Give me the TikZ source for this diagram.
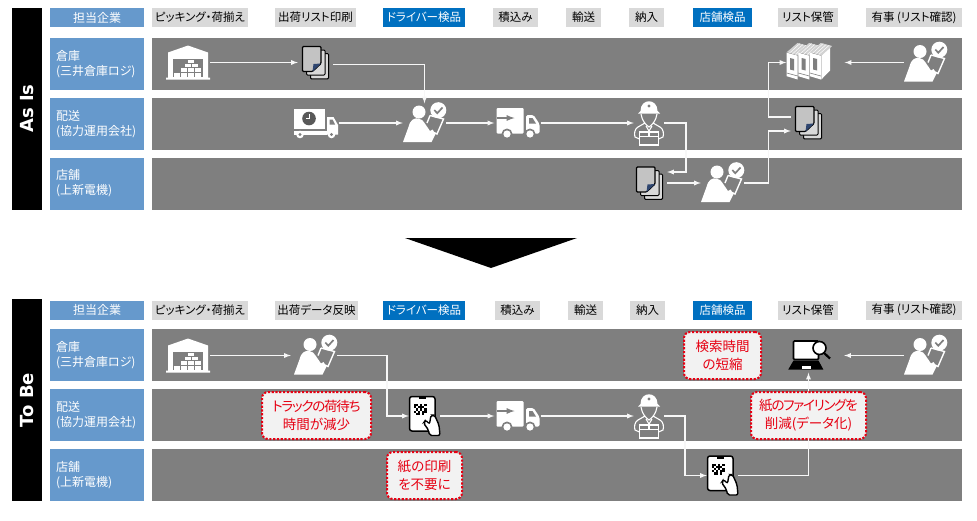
\documentclass[tikz,border=0pt]{standalone}
\usepackage{fontspec}
\setmainfont{Noto Sans CJK JP}[RawFeature={+palt}]
\newfontfamily\tagfont{DejaVu Sans}
\newcommand{\tightline}[1]{{\addfontfeature{LetterSpace=-9}#1}}
\usepackage{tikz}

\definecolor{bandgray}{HTML}{7F7F7F}
\definecolor{labelblue}{HTML}{6699CC}
\definecolor{stepgray}{HTML}{D9D9D9}
\definecolor{checkblue}{HTML}{0070C0}
\definecolor{calloutred}{HTML}{E60012}
\definecolor{calloutfill}{HTML}{F2F2F2}
\definecolor{linewhite}{HTML}{F7F7F7}
\definecolor{foldnavy}{HTML}{2F4670}

\tikzset{
  tagbox/.style={fill=black, text=white, minimum width=202pt, minimum height=30pt, inner sep=0pt, rotate=90, font=\tagfont\bfseries\fontsize{18}{18}\selectfont},
  headbox/.style={fill=labelblue, text=white, minimum height=19pt, inner sep=0pt, font=\fontsize{12}{15}\selectfont},
  rowlabel/.style={fill=labelblue, text=white, minimum width=94pt, minimum height=52pt, text width=82pt, align=left, inner sep=0pt, font=\fontsize{12}{15}\selectfont},
  band/.style={fill=bandgray, minimum width=810pt, minimum height=52pt, inner sep=0pt},
  stepbox/.style={fill=stepgray, text=black, minimum height=19pt, inner sep=0pt, font=\fontsize{11.5}{14}\selectfont},
  checkbox/.style={fill=checkblue, text=white, minimum height=19pt, inner sep=0pt, font=\fontsize{11.5}{14}\selectfont},
  callout/.style={fill=calloutfill, draw=calloutred, line width=2pt, dash pattern=on 2.2pt off 1.6pt, rounded corners=6pt, text=calloutred, align=center, inner sep=0pt, minimum height=47pt, font=\fontsize{13.5}{18}\selectfont},
  flow/.style={->, >=latex, draw=linewhite, line width=1.3pt},
  whicon/.style={minimum width=44pt, minimum height=34pt, inner sep=0pt},
  docicon/.style={minimum width=35pt, minimum height=34pt, inner sep=0pt},
  personicon/.style={minimum width=43pt, minimum height=39pt, inner sep=0pt},
  truckicon/.style={minimum width=46pt, minimum height=32pt, inner sep=0pt},
  manicon/.style={minimum width=30pt, minimum height=44pt, inner sep=0pt},
  binderout/.style={minimum width=44pt, minimum height=38pt, inner sep=0pt},
  laptopicon/.style={minimum width=43pt, minimum height=34pt, inner sep=0pt},
  phoneicon/.style={minimum width=31pt, minimum height=40pt, inner sep=0pt},
  warehouse/.pic={
    \fill[white] (-20,-10) -- (0,-17) -- (20,-10) -- (20,15) -- (22,15) -- (22,17) -- (-22,17) -- (-22,15) -- (-20,15) -- cycle;
    \fill[bandgray] (-15,-4) rectangle (15,14.5);
    \foreach \bx in {-14,-7,0,7} \fill[white] (\bx,10) rectangle ++(6,4);
    \foreach \bx in {-7,0,7} \fill[white] (\bx,5.5) rectangle ++(6,3.5);
    \foreach \bx in {-3.5,3.5} \fill[white] (\bx,1) rectangle ++(6,3.5);
    \fill[white] (0,-3) rectangle ++(6,3);
  },
  paperstack/.pic={
    \draw[black, fill=stepgray, line width=1pt, rounded corners=1pt] (-5,-9) rectangle (13,16.3);
    \draw[black, fill=stepgray, line width=1pt, rounded corners=1pt] (-9,-12.5) rectangle (9.5,12.5);
    \draw[black, fill=stepgray!90!black, line width=1.2pt, rounded corners=1pt] (-13,-16) -- (5.5,-16) -- (5.5,1) -- (-3,9) -- (-13,9) -- cycle;
    \fill[foldnavy] (5.5,1) -- (-3,9) -- (-2,1.5) -- cycle;
  },
  checker/.pic={
    \fill[white] (-21.5,19) -- (-16,4) .. controls (-14,-4) and (-10,-5) .. (-6,-4.5) .. controls (-3,-4) and (-1,-2) .. (0,0) -- (5.5,8) -- (8,6.5) -- (11,11) -- (7,19) -- cycle;
    \fill[white] (-5.5,-11) circle[radius=6.5];
    \draw[white, line width=1.4pt] (5.5,-7.5) -- (19,-4) -- (12.5,11) -- (9.5,9.5);
    \draw[white, line width=1.4pt] (5.5,-7.5) -- (2.5,0);
    \fill[white] (13.8,-12.8) circle[radius=8];
    \draw[bandgray, line width=1.7pt] (9.8,-13) -- (12.8,-9.8) -- (18,-15.5);
  },
  clocktruck/.pic={
    \fill[white] (-22,-14.5) rectangle (9.5,6);
    \fill[white] (-22,7.5) rectangle (11,11.5);
    \fill[white] (11.5,-6) -- (18,-6) -- (22.5,2) -- (22.5,11.5) -- (11.5,11.5) -- cycle;
    \fill[bandgray] (14,-3.5) -- (17,-3.5) -- (19.5,1.5) -- (14,1.5) -- cycle;
    \foreach \wx in {-15.5,16} {
      \fill[white] (\wx,11.5) circle[radius=3.8];
      \fill[bandgray] (\wx,11.5) circle[radius=1.6];
    }
    \fill[black!65] (-6.5,-4.5) circle[radius=6.8];
    \draw[white, line width=0.9pt] (-6.5,-9) -- (-6.5,-4.5) -- (-10,-4.5);
  },
  cargotruck/.pic={
    \fill[white, rounded corners=1pt] (-21,-15) rectangle (6,10.5);
    \fill[white, rounded corners=1.5pt] (8.5,-8) -- (16,-8) -- (22,1) -- (22,10.5) -- (8.5,10.5) -- cycle;
    \fill[bandgray] (11.5,-5) -- (15,-5) -- (18.5,0.5) -- (11.5,0.5) -- cycle;
    \foreach \wx in {-10.5,12.5} {
      \fill[bandgray] (\wx,11) circle[radius=5.5];
      \fill[white] (\wx,11) circle[radius=3.6];
    }
    \draw[flow, draw=bandgray, line width=1.7pt] (-21,-5) -- (-3,-5);
  },
  courier/.pic={
    \fill[white] (-8.5,-12) .. controls (-8.5,-25) and (8.5,-25) .. (8.5,-12) -- (11,-9.5) -- (-11,-9.5) -- cycle;
    \fill[bandgray] (0,-17) circle[radius=1.6];
    \begin{scope}[white, line width=1.1pt]
    \draw (-8,-9) .. controls (-7,-2) and (-3,2) .. (0,4) .. controls (3,2) and (7,-2) .. (8,-9);
    \draw (-4,0) -- (-11,4) .. controls (-14.5,6) and (-15,11) .. (-14,14) -- (-9.5,16);
    \draw (4,0) -- (11,4) .. controls (14.5,6) and (15,11) .. (14,14) -- (9.5,16);
    \draw (-9.5,9) rectangle (9.5,22);
    \draw (-9.5,13.5) -- (9.5,13.5);
    \draw (0,9) -- (0,13.5);
    \draw (-3,3) -- (0,8) -- (3,3);
    \end{scope}
  },
  binders/.pic={
    \fill[white] (12.8,-7) -- (21.5,-16) -- (21.5,8) -- (12.8,17) -- cycle;
    \foreach \bk in {0,11.6,23.2} {
      \fill[white!65!bandgray] (-21.8+\bk,-10.3) -- (-11+\bk,-19.5) -- (0.5+\bk,-16.5) -- (-10.2+\bk,-7) -- cycle;
      \draw[white, line width=0.5pt] (-19+\bk,-9.5) -- (-8.5+\bk,-19);
      \draw[white, line width=0.5pt] (-16+\bk,-8.7) -- (-5.5+\bk,-18);
      \draw[white, line width=0.5pt] (-13+\bk,-8) -- (-2.5+\bk,-17.2);
      \fill[white] (-21.8+\bk,-9.8) -- (-10.8+\bk,-6.8) -- (-10.8+\bk,17) -- (-21.8+\bk,13.7) -- cycle;
      \fill[bandgray] (-18.5+\bk,-4.5) -- (-14.5+\bk,-3.5) -- (-14.5+\bk,8) -- (-18.5+\bk,7) -- cycle;
      \draw[bandgray, line width=0.6pt] (-21.8+\bk,10.5) -- (-10.8+\bk,13.5);
    }
  },
  laptop/.pic={
    \draw[black, fill=white, line width=1.6pt, rounded corners=1pt] (-15,-14.5) rectangle (10,4);
    \fill[black] (-15,5) -- (10,5) -- (14.8,14) -- (-20.2,14) -- cycle;
    \fill[white] (-7,10) rectangle (2,13);
    \draw[black, line width=2.2pt] (15,-3) -- (21.5,3);
    \draw[black, fill=white, line width=1.6pt] (11,-7.5) circle[radius=6.5];
  },
  scanphone/.pic={
    \draw[black, fill=white, line width=1.5pt, rounded corners=2.5pt] (-15,-19.5) rectangle (10.5,15);
    \fill[black] (-6,-19) rectangle (1.5,-17);
    \fill[white] (-11,-12) rectangle (2,-1);
    \foreach \qx/\qy in {0/0,1/0,3/0,5/0,0/1,2/1,3/1,4/1,1/2,3/2,5/2,0/3,2/3,4/3,5/3,1/4,2/4,4/4}
      \fill[black] (-11+2.17*\qx,-12+2.2*\qy) rectangle ++(2.17,2.2);
    \draw[black, fill=white, line width=1.4pt, rounded corners=2pt] (-1,7) -- (1,4) -- (5,8) -- (6.5,-1) -- (10,-1) -- (14.5,9) -- (15.5,19.5) -- (5,19.5) -- (4,14) -- cycle;
  },
}

\begin{document}
\begin{tikzpicture}[x=1pt, y=-1pt]
\useasboundingbox (0,0) rectangle (977,520);

% As Is
\node[tagbox] (tagA) at (27,108.5) {As Is};
\node[headbox, minimum width=94pt] (hdA) at (97,17.5) {担当企業};
\node[stepbox, minimum width=96pt] (stA) at (200,17.5) {ピッキング・荷揃え};
\node[stepbox, minimum width=81pt] (stB) at (315.5,17.5) {出荷リスト印刷};
\node[checkbox, minimum width=82pt] (stC) at (424,17.5) {ドライバー検品};
\node[stepbox, minimum width=45pt] (stD) at (515.5,17.5) {積込み};
\node[stepbox, minimum width=35pt] (stE) at (583.5,17.5) {輸送};
\node[stepbox, minimum width=35pt] (stF) at (646.5,17.5) {納入};
\node[checkbox, minimum width=59pt] (stG) at (722.5,17.5) {店舗検品};
\node[stepbox, minimum width=60pt] (stH) at (808,17.5) {リスト保管};
\node[stepbox, minimum width=96pt] (stI) at (914,17.5) {有事 (リスト確認)};

\node[rowlabel] (lbA) at (97,64) {倉庫\\(三井倉庫ロジ)};
\node[rowlabel] (lbB) at (97,124) {配送\\(協力運用会社)};
\node[rowlabel] (lbC) at (97,183.5) {店舗\\(上新電機)};
\node[band] (bdA) at (557,64) {};
\node[band] (bdB) at (557,124) {};
\node[band] (bdC) at (557,183.5) {};

\node[whicon] (whA) at (188,62.5) {};
\node[docicon] (docA) at (315.5,62.5) {};
\node[truckicon] (trkA) at (315.5,123) {};
\node[personicon] (perA) at (424.5,123) {};
\node[truckicon] (trkB) at (517.5,123) {};
\node[manicon] (manA) at (649,123) {};
\node[docicon] (docB) at (649.5,183) {};
\node[personicon] (perB) at (722.5,183) {};
\node[docicon] (docC) at (808.5,122.5) {};
\node[binderout] (binA) at (808.5,62.5) {};
\node[personicon] (perC) at (925.5,62.5) {};
\coordinate (jnA) at (686,150);
\coordinate (jnB) at (768.5,150);
\coordinate (jnC) at (768.5,90);

\pic at (whA) {warehouse};
\pic at (docA) {paperstack};
\pic at (trkA) {clocktruck};
\pic at (perA) {checker};
\pic at (trkB) {cargotruck};
\pic at (manA) {courier};
\pic at (docB) {paperstack};
\pic at (perB) {checker};
\pic at (docC) {paperstack};
\pic at (binA) {binders};
\pic at (perC) {checker};

\draw[flow] (whA.east) -- (docA.west);
\draw[flow] ([yshift=-2pt]docA.east) -| (perA.north);
\draw[flow] (trkA.east) -- (perA.west);
\draw[flow] (perA.east) -- (trkB.west);
\draw[flow] (trkB.east) -- (manA.west);
\draw[flow] (manA.east) -| (jnA) |- ([yshift=11pt]docB.east);
\draw[flow] (docB.east) -- (perB.west);
\draw[flow] (perB.east) -| (jnB) |- ([yshift=-8.5pt]docC.west);
\draw[flow] ([yshift=5.5pt]docC.west) -| (jnC) |- (binA.west);
\draw[flow] (perC.west) -- ([xshift=14pt]binA.east);

\fill[black] (405,238) -- (577,238) -- (491,268) -- cycle;

% To Be
\node[tagbox] (tagB) at (27,400) {To Be};
\node[headbox, minimum width=94pt] (hdB) at (97,310) {担当企業};
\node[stepbox, minimum width=96pt] (stJ) at (200,310) {ピッキング・荷揃え};
\node[stepbox, minimum width=83pt] (stK) at (316.5,310) {出荷データ反映};
\node[checkbox, minimum width=82pt] (stL) at (424,310) {ドライバー検品};
\node[stepbox, minimum width=45pt] (stM) at (517.5,310) {積込み};
\node[stepbox, minimum width=35pt] (stN) at (585.5,310) {輸送};
\node[stepbox, minimum width=35pt] (stO) at (647.5,310) {納入};
\node[checkbox, minimum width=59pt] (stP) at (722.5,310) {店舗検品};
\node[stepbox, minimum width=60pt] (stQ) at (808,310) {リスト保管};
\node[stepbox, minimum width=96pt] (stR) at (914,310) {有事 (リスト確認)};

\node[rowlabel] (lbD) at (97,355) {倉庫\\(三井倉庫ロジ)};
\node[rowlabel] (lbE) at (97,415) {配送\\(協力運用会社)};
\node[rowlabel] (lbF) at (97,475) {店舗\\(上新電機)};
\node[band] (bdD) at (557,355) {};
\node[band] (bdE) at (557,415) {};
\node[band] (bdF) at (557,475) {};

\node[whicon] (whB) at (188,355.5) {};
\node[personicon] (perD) at (315.5,355.5) {};
\node[phoneicon] (phoA) at (424.5,416) {};
\node[truckicon] (trkC) at (517.5,416) {};
\node[manicon] (manB) at (649,416) {};
\node[phoneicon] (phoB) at (722.5,475.5) {};
\node[laptopicon] (lapA) at (808.5,355.5) {};
\node[personicon] (perE) at (925.5,355.5) {};
\coordinate (jnD) at (387,390);
\coordinate (jnE) at (685,450);

\pic at (whB) {warehouse};
\pic at (perD) {checker};
\pic at (phoA) {scanphone};
\pic at (trkC) {cargotruck};
\pic at (manB) {courier};
\pic at (phoB) {scanphone};
\pic at (lapA) {laptop};
\pic at (perE) {checker};

\draw[flow] (whB.east) -- ([xshift=-3pt]perD.west);
\draw[flow] (perD.east) -| (jnD) |- (phoA.west);
\draw[flow] (phoA.east) -- (trkC.west);
\draw[flow] (trkC.east) -- (manB.west);
\draw[flow] (manB.east) -| (jnE) |- (phoB.west);
\draw[flow] (phoB.east) -| (lapA.south);
\draw[flow] (perE.west) -- ([xshift=14pt]lapA.east);

\node[callout, minimum width=109pt] (noteA) at (316.5,415.5) {\tightline{トラックの荷待ち}\\時間が減少};
\node[callout, minimum width=75pt] (noteB) at (424.5,475.5) {紙の印刷\\を不要に};
\node[callout, minimum width=77pt] (noteC) at (722.5,355.5) {検索時間\\の短縮};
\node[callout, minimum width=115pt] (noteD) at (808.5,415.5) {\tightline{紙のファイリングを}\\削減(データ化)};

\end{tikzpicture}
\end{document}
